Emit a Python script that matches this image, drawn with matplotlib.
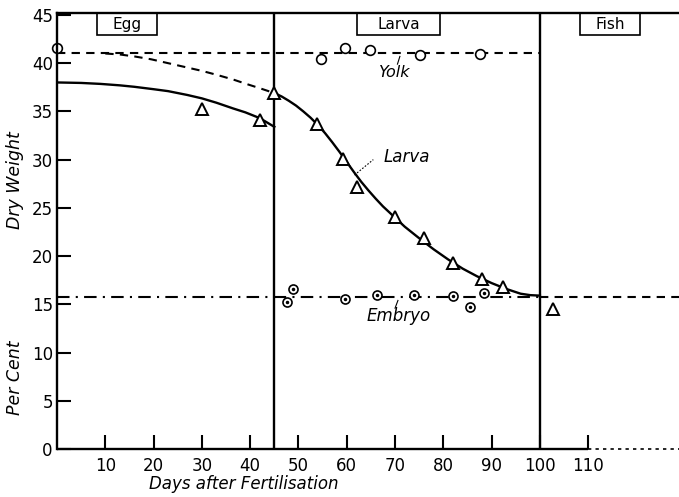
import matplotlib
matplotlib.use("Agg")
import matplotlib.pyplot as plt
from matplotlib.patches import Rectangle

# ---- data ----
yolk_days = [0, 54.6, 59.6, 64.8, 75.2, 87.6]
yolk_vals = [41.6, 40.4, 41.6, 41.4, 40.8, 41.0]

larva_days = [30, 42, 45, 53.8, 59.2, 62.2, 70.0, 76.0, 81.9, 88.1, 92.4, 102.7]
larva_vals = [35.2, 34.1, 36.9, 33.7, 30.1, 27.2, 24.0, 21.9, 19.3, 17.6, 16.8, 14.5]

embryo_days = [47.7, 48.9, 59.6, 66.2, 73.9, 81.9, 85.5, 88.4]
embryo_vals = [15.2, 16.6, 15.6, 16.0, 16.0, 15.9, 14.7, 16.2]

# fitted curves
egg_curve_days = [0, 5, 9, 13, 16, 20, 23, 27, 30, 33, 36.5, 39, 42, 45]
egg_curve_vals = [38.0, 37.95, 37.85, 37.7, 37.55, 37.3, 37.1, 36.7, 36.35, 35.9, 35.3, 34.9, 34.3, 33.4]

yolkdash_days = [10, 13, 16, 19.5, 23, 26.5, 30, 33, 36.5, 39.5, 42, 45]
yolkdash_vals = [41.0, 40.9, 40.7, 40.4, 40.0, 39.6, 39.2, 38.8, 38.3, 37.8, 37.4, 36.9]

larva_curve_days = [45, 46.5, 48, 49.5, 51, 52.5, 54, 55.5, 57, 58.5, 60, 61.5, 63, 64.5, 66, 67.5, 69,
                    72, 75, 78, 81, 84, 87, 90, 93, 96, 98, 100]
larva_curve_vals = [36.9, 36.55, 36.1, 35.6, 35.0, 34.35, 33.6, 32.75, 31.8, 30.8, 29.75, 28.7, 27.7, 26.8,
                    25.95, 25.15, 24.45, 23.05, 21.85, 20.7, 19.65, 18.7, 17.9, 17.2, 16.6, 16.1, 15.95, 15.9]

yolk_level = 41.1
embryo_level = 15.8
stage_bounds = [45, 100]
stage_names = ["Egg", "Larva", "Fish"]
stage_box_x = [(8.3, 20.7), (62.1, 79.3), (108.3, 120.7)]

xticks = [10, 20, 30, 40, 50, 60, 70, 80, 90, 100, 110]
yticks = [0, 5, 10, 15, 20, 25, 30, 35, 40, 45]

# ---- figure ----
fig = plt.figure(figsize=(6.79, 4.97), dpi=100)
ax = fig.add_axes([57/679, 1 - 449/497, 1 - 57/679, (449 - 13)/497])
ax.set_xlim(0, 128.8)
ax.set_ylim(0, 45.2)

lw = 1.7
ax.spines['right'].set_visible(False)
ax.spines['bottom'].set_visible(False)
ax.spines['left'].set_linewidth(lw)
ax.spines['top'].set_linewidth(lw)

# bottom axis: solid to 110, dotted beyond
ax.plot([0, 110], [0, 0], color='black', lw=lw, clip_on=False, solid_capstyle='butt')
ax.plot([110, 128.8], [0, 0], color='black', lw=1.2, ls=(0, (2, 2.5)), clip_on=False)

# ticks inward
ax.set_xticks(xticks)
ax.set_yticks(yticks)
ax.tick_params(axis='x', direction='in', length=10, width=1.5, pad=6, labelsize=12, top=False)
ax.tick_params(axis='y', direction='in', length=10, width=1.5, pad=3, labelsize=12, right=False)
ax.set_yticklabels([str(v) for v in yticks])

# stage boundary lines
for b in stage_bounds:
    ax.axvline(b, color='black', lw=1.7)

# stage boxes
for name, (x0, x1) in zip(stage_names, stage_box_x):
    ax.add_patch(Rectangle((x0, 42.9), x1 - x0, 2.3, fill=False, lw=1.2, ec='black', clip_on=False))
    ax.text((x0 + x1) / 2, 44.0, name, ha='center', va='center', fontsize=11)

# yolk horizontal dashed line
ax.plot([0, 100], [yolk_level, yolk_level], color='black', lw=1.5, ls=(0, (4, 3)))
# embryo dash-dot line then dashed beyond 100
ax.plot([0, 100], [embryo_level, embryo_level], color='black', lw=1.5, ls=(0, (6, 3, 1, 3)))
ax.plot([100, 128.8], [embryo_level, embryo_level], color='black', lw=1.5, ls=(0, (4, 3)))

# curves
ax.plot(egg_curve_days, egg_curve_vals, color='black', lw=1.7)
ax.plot(yolkdash_days, yolkdash_vals, color='black', lw=1.5, ls=(0, (4, 3)))
ax.plot(larva_curve_days, larva_curve_vals, color='black', lw=1.7)

# markers
ax.plot(yolk_days, yolk_vals, ls='none', marker='o', ms=7, mfc='white', mec='black', mew=1.2, clip_on=False)
ax.plot(larva_days, larva_vals, ls='none', marker='^', ms=8, mfc='white', mec='black', mew=1.4, clip_on=False)
ax.plot(embryo_days, embryo_vals, ls='none', marker='o', ms=6.5, mfc='white', mec='black', mew=1.2)
ax.plot(embryo_days, embryo_vals, ls='none', marker='o', ms=1.5, color='black')

# curve labels
ax.text(70.0, 39.0, "Yolk", style='italic', fontsize=11.5, ha='center', va='center')
ax.plot([70.5, 71.0], [39.9, 40.7], color='black', lw=0.8)
ax.text(72.5, 30.3, "Larva", style='italic', fontsize=12, ha='center', va='center')
ax.plot([61.6, 65.5], [28.4, 30.0], color='black', lw=0.8, ls=(0, (1.5, 1.5)))
ax.text(70.8, 13.8, "Embryo", style='italic', fontsize=12, ha='center', va='center')
ax.plot([70.0, 70.6], [14.6, 15.4], color='black', lw=0.8)

# axis titles
fig.text(15/679, 1 - 180/497, "Dry Weight", rotation=90, style='italic', fontsize=12.5, ha='center', va='center')
fig.text(15/679, 1 - 378/497, "Per Cent", rotation=90, style='italic', fontsize=12.5, ha='center', va='center')
fig.text(244/679, 1 - 484/497, "Days after Fertilisation", style='italic', fontsize=12, ha='center', va='center')

fig.savefig("out.png", dpi=100)
